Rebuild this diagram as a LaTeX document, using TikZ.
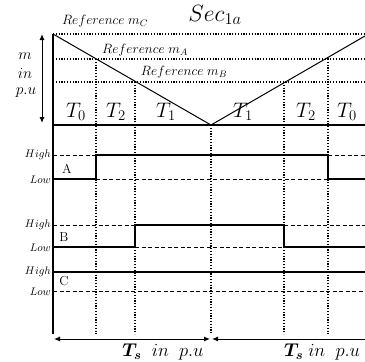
\RequirePackage{fix-cm}
\documentclass[tikz,border=0pt]{standalone}
\usepackage{amsmath}
\usetikzlibrary{arrows.meta}
\begin{document}
\begin{tikzpicture}[x=1pt,y=-1pt,
  axisline/.style={line width=1.6pt},
  sigline/.style={line width=1.3pt},
  dotline/.style={line width=1.2pt,dash pattern=on 1.2pt off 1.6pt},
  dashline/.style={line width=0.8pt,dash pattern=on 4pt off 2.5pt},
  tri/.style={line width=1pt},
  refl/.style={inner sep=0pt,font=\fontsize{13.5}{15}\selectfont},
  tlab/.style={inner sep=0pt,font=\fontsize{21}{24}\selectfont},
  hl/.style={inner sep=0pt,anchor=east,font=\fontsize{11}{12}\selectfont},
  sname/.style={inner sep=0pt,font=\fontsize{13}{15}\selectfont},
  arr/.style={line width=1pt,{Latex[length=6pt,width=5pt]}-{Latex[length=6pt,width=5pt]}},
  tslab/.style={inner sep=0pt,font=\fontsize{18.5}{20}\selectfont},
  mlab/.style={inner sep=0pt,font=\fontsize{15.5}{17}\selectfont}
]
\useasboundingbox (0,0) rectangle (365,362);
% key coordinates
\coordinate (top) at (53,34);
\coordinate (bot) at (53,334);
\coordinate (bl) at (53,125);
\coordinate (br) at (365,125);
\coordinate (vtx) at (211,125);
\coordinate (rtop) at (365,36);
\coordinate (cR) at (365,34);
\coordinate (aL) at (53,59);  \coordinate (aR) at (365,59);
\coordinate (bL) at (53,82);  \coordinate (bR) at (365,82);
% reference levels
\draw[dotline] (top) -- (cR);
\draw[dotline] (aL) -- (aR);
\draw[dotline] (bL) -- (bR);
% vertical dotted lines
\coordinate (v1t) at (96,59);  \coordinate (v1b) at (96,334);
\coordinate (v2t) at (135,82); \coordinate (v2b) at (135,334);
\coordinate (v3t) at (211,125); \coordinate (v3b) at (211,334);
\coordinate (v4t) at (284,82); \coordinate (v4b) at (284,334);
\coordinate (v5t) at (328,59); \coordinate (v5b) at (328,334);
\draw[dotline] (v1t) -- (v1b);
\draw[dotline] (v2t) -- (v2b);
\draw[dotline] (v3t) -- (v3b);
\draw[dotline] (v4t) -- (v4b);
\draw[dotline] (v5t) -- (v5b);
% triangle carrier
\draw[tri] (top) -- (vtx) -- (rtop);
% axes
\draw[axisline] (top) -- (bot);
\draw[axisline] (bl) -- (br);
% m in p.u arrow
\coordinate (ma) at (42,34); \coordinate (mb) at (42,123);
\draw[arr] (ma) -- (mb);
\node[mlab] (lm) at (25,56) {$m$};
\node[mlab] (lin) at (25,73) {$in$};
\node[mlab] (lpu) at (26,93) {$p.u$};
% titles
\node[inner sep=0pt,font=\fontsize{23.5}{26}\selectfont] (sec) at (215,15) {$Sec_{1a}$};
\node[refl] (rc) at (105,21) {$Reference\;m_C$};
\node[refl] (ra) at (145,50) {$Reference\;m_A$};
\node[refl] (rb) at (184,72) {$Reference\;m_B$};
% T labels
\node[tlab] at (76,112) {$T_0$};
\node[tlab] at (116,112) {$T_2$};
\node[tlab] at (166,112) {$T_1$};
\node[tlab] at (243,112) {$T_1$};
\node[tlab] at (306,112) {$T_2$};
\node[tlab] at (347,112) {$T_0$};
% signal A
\coordinate (AH0) at (53,155); \coordinate (AL0) at (53,179);
\coordinate (AH1) at (96,155); \coordinate (AL1) at (96,179);
\coordinate (AH2) at (328,155); \coordinate (AL2) at (328,179);
\coordinate (AH3) at (365,155); \coordinate (AL3) at (365,179);
\draw[dashline] (AH0) -- (AH1);
\draw[dashline] (AH2) -- (AH3);
\draw[dashline] (AL1) -- (AL2);
\draw[sigline] (AL0) -- (AL1) -- (AH1) -- (AH2) -- (AL2) -- (AL3);
% signal B
\coordinate (BH0) at (53,225); \coordinate (BL0) at (53,247);
\coordinate (BH1) at (135,225); \coordinate (BL1) at (135,247);
\coordinate (BH2) at (284,225); \coordinate (BL2) at (284,247);
\coordinate (BH3) at (365,225); \coordinate (BL3) at (365,247);
\draw[dashline] (BH0) -- (BH1);
\draw[dashline] (BH2) -- (BH3);
\draw[dashline] (BL1) -- (BL2);
\draw[sigline] (BL0) -- (BL1) -- (BH1) -- (BH2) -- (BL2) -- (BL3);
% signal C
\coordinate (CH0) at (53,272); \coordinate (CL0) at (53,291);
\coordinate (CH3) at (365,272); \coordinate (CL3) at (365,291);
\draw[dashline] (CL0) -- (CL3);
\draw[sigline] (CH0) -- (CH3);
% High / Low labels
\node[hl] at (51,155) {$High$};
\node[hl] at (51,180) {$Low$};
\node[hl] at (51,225) {$High$};
\node[hl] at (51,248) {$Low$};
\node[hl] at (51,272) {$High$};
\node[hl] at (51,292) {$Low$};
% signal names
\node[sname] (nA) at (67,169) {A};
\node[sname] (nB) at (64,237) {B};
\node[sname] (nC) at (64,281) {C};
% Ts arrows
\coordinate (t0) at (54,339); \coordinate (t1) at (210,339);
\coordinate (t2) at (212,339); \coordinate (t3) at (365,339);
\draw[arr] (t0) -- (t1);
\draw[line width=1pt,{Latex[length=6pt,width=5pt]}-] (t2) -- (t3);
\node[tslab] (ts1) at (163,352) {$\boldsymbol{T_s}\;\;in\;\;p.u$};
\node[tslab] (ts2) at (322,352) {$\boldsymbol{T_s}\;in\;\;p.u$};
\end{tikzpicture}
\end{document}
